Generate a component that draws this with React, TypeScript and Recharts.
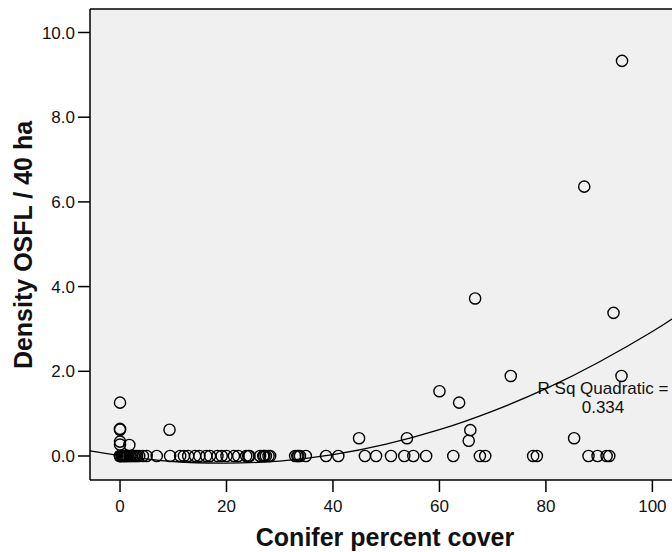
import { ComposedChart, Scatter, Line, XAxis, YAxis, CartesianGrid, ReferenceLine } from 'recharts';

// sites where OSFL were found (cover %, density per 40 ha)
const occupiedCover = [0, 0, 0, 0, 0, 1.75, 9.3, 44.9, 53.9, 60, 63.7, 65.5, 65.8, 66.7, 73.4, 85.3, 87.2, 92.7, 94.2, 94.3];
const occupiedDensity = [1.26, 0.64, 0.62, 0.34, 0.27, 0.26, 0.62, 0.42, 0.42, 1.53, 1.26, 0.36, 0.61, 3.72, 1.89, 0.42, 6.36, 3.38, 1.89, 9.33];

// sites with zero density
const emptyCover = [
  0, 0, 0, 0.3, 0.5, 0.7, 0.9, 1.1, 1.3, 1.5, 1.8, 2.0, 2.3, 2.6, 2.9, 3.2, 3.6, 4.3, 5.0, 6.9, 9.4,
  11.3, 12.0, 12.8, 14.1, 14.9, 16.2, 16.9, 18.3, 19.1, 20.0, 21.4, 22.2, 23.7, 24.1, 24.3, 26.3, 26.9,
  27.1, 27.4, 27.9, 28.2, 32.9, 33.3, 33.5, 33.8, 34.9, 38.7, 41.0, 46.0, 48.1, 50.9, 53.4, 55.1, 57.5,
  62.6, 67.6, 68.6, 77.6, 78.3, 88.0, 89.7, 91.4, 91.9,
];

// quadratic fit line
const fitCover = [-5.64, 0, 10, 20, 30, 40, 50, 60, 70, 80, 90, 100, 105];
const fitDensity = [0.12, 0.01, -0.13, -0.17, -0.12, 0.03, 0.28, 0.62, 1.06, 1.59, 2.22, 2.94, 3.35];

const xTicks = [0, 20, 40, 60, 80, 100];
const yTicks = [0, 2, 4, 6, 8, 10];

const X_MIN = -5.64;
const X_MAX = 105;
const Y_MIN = -0.567;
const Y_MAX = 10.555;

const points = [
  ...occupiedCover.map((x, i) => ({ x, y: occupiedDensity[i] })),
  ...emptyCover.map((x) => ({ x, y: 0 })),
];
const fit = fitCover.map((x, i) => ({ x, y: fitDensity[i] }));

const font = 'Arial, "Liberation Sans", sans-serif';

const Ring = (props: any) => {
  const { cx, cy } = props;
  if (cx == null || cy == null) return null;
  return <circle cx={cx} cy={cy} r={5.6} fill="none" stroke="#000" strokeWidth={1.4} />;
};

export default function App() {
  return (
    <div style={{ position: 'fixed', left: 0, top: 0, width: 672, height: 552, overflow: 'hidden', background: '#fff' }}>
      <ComposedChart width={690} height={552} margin={{ top: 9, right: 11, bottom: 0, left: 0 }}>
        <CartesianGrid horizontal={false} vertical={false} fill="#f0f0f0" fillOpacity={1} />
        <XAxis
          dataKey="x"
          type="number"
          domain={[X_MIN, X_MAX]}
          allowDataOverflow
          ticks={xTicks}
          height={72}
          tickSize={12}
          tickMargin={8}
          stroke="#000"
          strokeWidth={1.5}
          tick={{ fill: '#111', fontSize: 17, fontFamily: font }}
        />
        <YAxis
          type="number"
          domain={[Y_MIN, Y_MAX]}
          allowDataOverflow
          ticks={yTicks}
          width={90}
          tickSize={12}
          tickMargin={3}
          stroke="#000"
          strokeWidth={1.5}
          tickFormatter={(v: number) => v.toFixed(1)}
          tick={{ fill: '#111', fontSize: 17, fontFamily: font }}
        />
        <ReferenceLine y={Y_MAX} stroke="#000" strokeWidth={1.5} />
        <Line data={fit} dataKey="y" type="natural" stroke="#000" strokeWidth={1.3} dot={false} isAnimationActive={false} />
        <Scatter data={points} dataKey="y" shape={Ring} isAnimationActive={false} />
        <text x={603} y={394} textAnchor="middle" fontSize={17} fontFamily={font} fill="#111">
          R Sq Quadratic =
        </text>
        <text x={603} y={413} textAnchor="middle" fontSize={17} fontFamily={font} fill="#111">
          0.334
        </text>
        <text x={385} y={546} textAnchor="middle" fontSize={25} fontWeight="bold" fontFamily={font} fill="#111">
          Conifer percent cover
        </text>
        <text
          x={23}
          y={245}
          transform="rotate(-90 23 245)"
          textAnchor="middle"
          dominantBaseline="central"
          fontSize={25}
          fontWeight="bold"
          fontFamily={font}
          fill="#111"
        >
          Density OSFL / 40 ha
        </text>
      </ComposedChart>
    </div>
  );
}
